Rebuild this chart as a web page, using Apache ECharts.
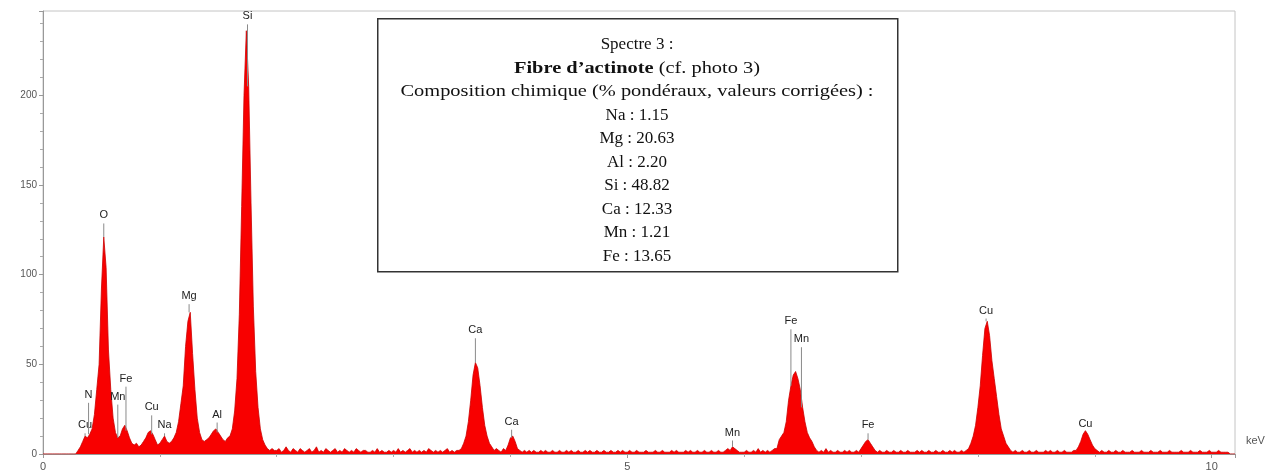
<!DOCTYPE html>
<html>
<head>
<meta charset="utf-8">
<script src="https://cdn.jsdelivr.net/npm/echarts@6/dist/echarts.min.js"></script>
<style>
html,body{margin:0;padding:0;background:#fff;}
#chart{width:1282px;height:474px;}
</style>
</head>
<body>
<div id="chart"></div>
<script>
// Spectrum: counts per channel, channel width 0.02 keV, starting at 0 keV
const channelWidth = 0.02;
const counts = [
  0,0,0,0,0,0,0,0,0,0,            // 0.00-0.18
  0,0,0,0,0,2,4,7,10,9,           // 0.20-0.38
  11,14,22,36,50,92,121,104,58,36,// 0.40-0.58
  20,12,9,10,14,16,13,9,6,5,      // 0.60-0.78
  6,4,5,7,9,12,13,11,8,5,         // 0.80-0.98
  6,8,10,7,6,7,9,12,18,28,        // 1.00-1.18
  38,60,74,79,56,36,20,12,8,7,    // 1.20-1.38
  8,9,11,13,14,12,10,8,7,9,       // 1.40-1.58
  10,14,24,42,78,138,200,236,205,140, // 1.60-1.78
  82,46,26,14,8,5,3,2,3,2,        // 1.80-1.98
  2,3,1,2,4,2,1,3,2,1,            // 2.00-2.18
  3,2,1,2,3,1,2,4,1,2,            // 2.20-2.38
  1,3,2,1,2,3,1,2,1,3,            // 2.40-2.58
  2,1,2,1,3,2,1,2,2,1,            // 2.60-2.78
  1,2,1,3,1,2,1,1,2,1,            // 2.80-2.98
  2,1,3,1,2,1,2,3,1,2,            // 3.00-3.18
  1,2,1,2,1,3,2,1,2,1,            // 3.20-3.38
  2,1,2,3,1,2,1,2,2,3,            // 3.40-3.58
  6,10,18,30,44,51,48,38,26,16,   // 3.60-3.78
  10,6,4,2,3,2,1,3,2,5,           // 3.80-3.98
  9,10,7,3,2,1,2,1,2,1,           // 4.00-4.18
  2,1,1,2,1,2,1,1,2,1,            // 4.20-4.38
  1,2,1,1,2,1,2,1,1,2,            // 4.40-4.58
  1,1,2,1,2,1,1,2,1,1,            // 4.60-4.78
  2,1,1,2,1,1,2,1,2,1,            // 4.80-4.98
  1,2,1,1,2,1,1,1,2,1,            // 5.00-5.18
  1,1,2,1,1,2,1,1,1,2,            // 5.20-5.38
  1,2,1,1,1,2,1,2,1,1,            // 5.40-5.58
  2,1,1,2,1,1,2,1,1,2,            // 5.60-5.78
  1,1,2,3,2,4,3,2,1,1,            // 5.80-5.98
  1,2,1,1,2,1,3,1,2,1,            // 6.00-6.18
  2,1,2,3,3,8,10,12,18,30,        // 6.20-6.38
  38,44,46,42,36,26,18,12,9,7,    // 6.40-6.58
  4,2,1,2,1,3,1,2,1,1,            // 6.60-6.78
  2,1,1,2,1,2,1,1,2,1,            // 6.80-6.98
  3,5,7,8,6,4,2,1,2,1,            // 7.00-7.18
  1,2,1,1,2,1,1,2,1,1,            // 7.20-7.38
  2,1,1,1,2,1,2,1,1,2,            // 7.40-7.58
  1,1,2,1,1,2,1,1,2,1,            // 7.60-7.78
  2,1,1,2,1,2,3,6,10,16,          // 7.80-7.98
  26,38,55,70,74,66,52,42,32,22,  // 8.00-8.18
  14,10,6,4,2,1,2,1,1,2,          // 8.20-8.38
  1,1,2,1,1,2,1,1,1,2,            // 8.40-8.58
  1,2,1,1,2,1,1,2,1,1,            // 8.60-8.78
  1,2,2,4,7,11,13,11,8,5,         // 8.80-8.98
  3,2,1,2,1,1,2,1,1,2,            // 9.00-9.18
  1,1,2,1,1,1,2,1,1,1,            // 9.20-9.38
  2,1,1,1,2,1,1,1,2,1,            // 9.40-9.58
  1,1,2,1,1,1,1,2,1,1,            // 9.60-9.78
  1,2,1,1,1,2,1,1,1,2,            // 9.80-9.98
  1,1,1,2,1,1,1,1,0,0,            // 10.00-10.18
  0                               // 10.20
];

// Peak identification labels
const lineNames    = ['Cu','N','O','Mn','Fe','Cu','Na','Mg','Al','Si','Ca','Ca','Mn','Fe','Mn','Fe','Cu','Cu'];
const lineEnergies = [0.36,0.39,0.52,0.64,0.71,0.93,1.04,1.25,1.49,1.75,3.70,4.01,5.90,6.40,6.49,7.06,8.07,8.92];
const labelLevels  = [16,33,133,32,42,26,16,88,22,244,69,18,12,74,64,16,80,17];

// Composition box
const boxTitle = 'Spectre 3 :';
const boxBold = 'Fibre d\u2019actinote';
const boxSub = ' (cf. photo 3)';
const boxHeader = 'Composition chimique (% pondéraux, valeurs corrigées) :';
const compElements = ['Na','Mg','Al','Si','Ca','Mn','Fe'];
const compValues   = ['1.15','20.63','2.20','48.82','12.33','1.21','13.65'];

// Axes
const xMax = 10.2, xInterval = 5;
const yMax = 247, yInterval = 50;

const spectrum = counts.map((c, i) => [+(i * channelWidth).toFixed(2), c]);
const labelData = lineNames.map((n, i) => {
  const ch = Math.round(lineEnergies[i] / channelWidth);
  return [lineEnergies[i], labelLevels[i], counts[ch], n];
});

const chart = echarts.init(document.getElementById('chart'));
const boxLines = ['{n|' + boxTitle + '}', '{b|' + boxBold + '}{n|' + boxSub + '}', '{n|' + boxHeader + '}']
  .concat(compElements.map((e, i) => '{n|' + e + ' : ' + compValues[i] + '}'));
const lineStretch = [1, 1.2, 1.2, 1, 1, 1, 1, 1, 1, 1];

const serif = 'Liberation Serif';
const richStyles = {
  n: {fontFamily: serif, fontSize: 17, fill: '#111'},
  b: {fontFamily: serif, fontSize: 17, fontWeight: 'bold', fill: '#111'}
};
const textGraphics = boxLines.map((t, i) => ({
  type: 'text', z: 11, x: 637, y: 45 + i * 23.45, scaleX: lineStretch[i],
  style: {text: t, x: 0, y: 0, align: 'center', verticalAlign: 'middle', rich: richStyles}
}));

chart.setOption({
  animation: false,
  grid: {left: 43, right: 47, top: 11, bottom: 20, show: true, borderColor: '#c4c4c4', borderWidth: 1},
  xAxis: {
    type: 'value', min: 0, max: xMax, interval: xInterval,
    name: 'keV', nameLocation: 'end', nameGap: 11,
    nameTextStyle: {color: '#555', fontSize: 11, fontFamily: 'Liberation Sans', verticalAlign: 'bottom', padding: [0, 0, 8, 0]},
    axisLine: {show: true, lineStyle: {color: '#999', width: 1}},
    axisTick: {show: true, length: 4, lineStyle: {color: '#999'}},
    minorTick: {show: true, splitNumber: 5, length: 3, lineStyle: {color: '#aaa'}},
    splitLine: {show: false},
    axisLabel: {color: '#555', fontSize: 11, fontFamily: 'Liberation Sans', margin: 7, showMaxLabel: false}
  },
  yAxis: {
    type: 'value', min: 0, max: yMax, interval: yInterval,
    axisLine: {show: true, lineStyle: {color: '#999', width: 1}},
    axisTick: {show: true, length: 4, lineStyle: {color: '#999'}},
    minorTick: {show: true, splitNumber: 5, length: 3, lineStyle: {color: '#aaa'}},
    splitLine: {show: false},
    axisLabel: {color: '#555', fontSize: 10, fontFamily: 'Liberation Sans', margin: 6, showMaxLabel: false}
  },
  series: [
    {
      type: 'line', data: spectrum, showSymbol: false, z: 2,
      lineStyle: {color: '#cc0000', width: 0.8},
      areaStyle: {color: '#f80000', opacity: 1},
      silent: true
    },
    {
      type: 'custom', data: labelData, z: 5, silent: true,
      renderItem: function (params, api) {
        const e = api.value(0), lv = api.value(1), pk = api.value(2);
        const name = lineNames[params.dataIndex];
        const pText = api.coord([e, lv]);
        const pPeak = api.coord([e, pk]);
        const children = [{
          type: 'text',
          style: {text: name, x: pText[0], y: pText[1], align: 'center', verticalAlign: 'middle',
                  font: '11px "Liberation Sans"', fill: '#222'}
        }];
        const lineTop = pText[1] + 8;
        if (pPeak[1] - lineTop > 2) {
          children.push({
            type: 'line',
            shape: {x1: pText[0], y1: lineTop, x2: pText[0], y2: pPeak[1]},
            style: {stroke: '#8a8a8a', lineWidth: 1}
          });
        }
        return {type: 'group', children: children};
      }
    }
  ],
  graphic: [
    {
      type: 'rect', left: 377, top: 18, z: 10,
      shape: {width: 520, height: 253},
      style: {fill: '#fff', stroke: '#333', lineWidth: 1.5}
    }
  ].concat(textGraphics)
});
</script>
</body>
</html>
